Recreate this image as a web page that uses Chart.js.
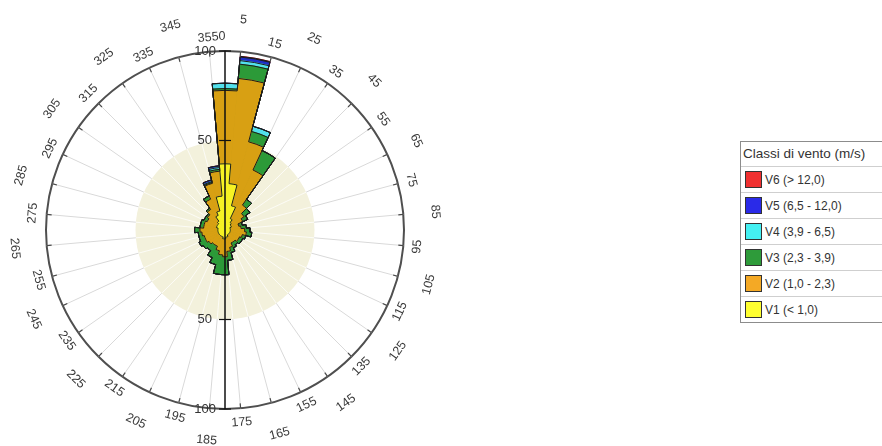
<!DOCTYPE html>
<html>
<head>
<meta charset="utf-8">
<script src="https://cdn.jsdelivr.net/npm/chart.js@4/dist/chart.umd.min.js"></script>
<style>
html,body{margin:0;padding:0;background:#fff;width:882px;height:446px;overflow:hidden;font-family:"Liberation Sans",Arial,sans-serif;}
#c{position:absolute;left:0;top:0;}
#legend{position:absolute;left:740px;top:141px;width:160px;border:1px solid #8c8c8c;background:#fff;color:#333;}
#legend .hdr{height:24px;line-height:24px;font-size:13.5px;padding-left:2px;white-space:nowrap;}
#legend .row{height:25px;border-top:1px solid #cfcfcf;display:flex;align-items:center;padding-left:4px;font-size:12px;white-space:nowrap;}
#legend .sw{width:15px;height:15px;border:1px solid #333;margin-right:3px;flex:none;}
</style>
</head>
<body>
<canvas id="c" width="450" height="446"></canvas>
<div id="legend"></div>
<script>
// Sector centres (degrees) – one bar per 10° sector
const sectors = ['0','10','20','30','40','50','60','70','80','90','100','110','120','130','140','150','160','170',
                 '180','190','200','210','220','230','240','250','260','270','280','290','300','310','320','330','340','350'];
// Angular tick labels at sector boundaries (355, 5, 15, ... 345)
const angleTicks = ['355','5','15','25','35','45','55','65','75','85','95','105','115','125','135','145','155','165',
                    '175','185','195','205','215','225','235','245','255','265','275','285','295','305','315','325','335','345'];
const radialTicks = [50, 100];
const legendTitle = 'Classi di vento (m/s)';
const classNames = ['V1 (< 1,0)','V2 (1,0 - 2,3)','V3 (2,3 - 3,9)','V4 (3,9 - 6,5)','V5 (6,5 - 12,0)','V6 (> 12,0)'];

// Frequency of each wind class per sector
const v1 = [37,26,14,7,5,4,4,3,3,3,3,3,3,3,3,3,4,4,5,5,4,4,4,4,4,4,4,4,4,5,5,5,6,9,11,19];
const v2 = [41,59,37,30,12,9,7,5,6,8,9,7,6,6,5,5,6,8,10,9,8,6,6,7,8,8,9,10,8,7,6,7,8,10,16,14];
const v3 = [1,8,6,12,4,4,3,2,3,3,3,2,2,2,2,3,3,5,10,11,8,7,4,4,4,3,2,3,2,2,2,1,1,2,0.5,1];
const v4 = [3,2,3,0,0,0,0,0,0,0,0,0,0,0,0,0,0,0,0,0,0,0,0,0,0,0,0,0,0,0,0,0,0,0,0.5,1];
const v5 = [0,2,0,0,0,0,0,0,0,0,0,0,0,0,0,0,0,0,0,0,0,0,0,0,0,0,0,0,0,0,0,0,0,0,1,1];
const v6 = [0,0.4,0,0,0,0,0,0,0,0,0,0,0,0,0,0,0,0,0,0,0,0,0,0,0,0,0,0,0,0,0,0,0,0,0,0];

const fillColors   = ['#F6F224','#D8A013','#2C9A38','#52E0EC','#1F2FC8','#EE2A2A'];
const legendColors = ['#FFFF30','#F4A925','#2E9B3A','#44F0F2','#2A2AE8','#F03030'];

// cumulative stacks (drawn largest first, so dataset 0 = innermost ends up on top)
const classes = [v1,v2,v3,v4,v5,v6];
const cumulative = [];
let run = sectors.map(() => 0);
classes.forEach(arr => { run = run.map((s,i) => s + arr[i]); cumulative.push(run.slice()); });

const datasets = cumulative.map((d,k) => ({
  label: classNames[k], data: d,
  backgroundColor: fillColors[k], borderColor: fillColors[k], borderWidth: 1
}));

const decor = {
  id: 'decor',
  beforeDatasetsDraw(chart) {
    const ctx = chart.ctx, s = chart.scales.r;
    const r50 = s.getDistanceFromCenterForValue(50);
    ctx.save();
    ctx.fillStyle = '#F3F1DC';
    ctx.beginPath(); ctx.arc(s.xCenter, s.yCenter, r50, 0, Math.PI*2); ctx.fill();
    ctx.strokeStyle = 'rgba(255,255,255,0.75)'; ctx.lineWidth = 1;
    for (let j = 0; j < sectors.length; j++) {
      const p = s.getPointPosition(j, r50);
      ctx.beginPath(); ctx.moveTo(s.xCenter, s.yCenter); ctx.lineTo(p.x, p.y); ctx.stroke();
    }
    ctx.restore();
  },
  afterDatasetsDraw(chart) {
    const ctx = chart.ctx, s = chart.scales.r;
    ctx.save();
    // outlines of each stacked layer
    ctx.strokeStyle = '#1c1c1c'; ctx.lineWidth = 1; ctx.lineJoin = 'miter';
    for (let k = cumulative.length - 1; k >= 0; k--) {
      const meta = chart.getDatasetMeta(k);
      ctx.beginPath();
      meta.data.forEach((arc, i) => {
        const {x, y, startAngle, endAngle, outerRadius} = arc.getProps(['x','y','startAngle','endAngle','outerRadius'], true);
        const px = x + outerRadius * Math.cos(startAngle), py = y + outerRadius * Math.sin(startAngle);
        if (i === 0) ctx.moveTo(px, py); else ctx.lineTo(px, py);
        ctx.arc(x, y, outerRadius, startAngle, endAngle);
      });
      ctx.closePath(); ctx.stroke();
    }
    const R = s.drawingArea;
    // ticks on outer circle
    ctx.strokeStyle = '#4a4a4a'; ctx.lineWidth = 1.2;
    for (let j = 0; j < angleTicks.length; j++) {
      const a = s.getPointPosition(j, R - 5), b = s.getPointPosition(j, R);
      ctx.beginPath(); ctx.moveTo(a.x, a.y); ctx.lineTo(b.x, b.y); ctx.stroke();
    }
    // vertical radial axis
    const top = s.yCenter - s.getDistanceFromCenterForValue(100);
    const bot = s.yCenter + s.getDistanceFromCenterForValue(100);
    ctx.strokeStyle = '#111'; ctx.lineWidth = 1.5;
    ctx.beginPath(); ctx.moveTo(s.xCenter, top); ctx.lineTo(s.xCenter, bot); ctx.stroke();
    ctx.font = '13px "Liberation Sans", Arial, sans-serif';
    ctx.fillStyle = '#333'; ctx.textAlign = 'right'; ctx.textBaseline = 'middle';
    radialTicks.forEach(v => {
      const d = s.getDistanceFromCenterForValue(v);
      [s.yCenter - d, s.yCenter + d].forEach(yy => {
        ctx.lineWidth = 1.2;
        ctx.beginPath(); ctx.moveTo(s.xCenter - 6, yy); ctx.lineTo(s.xCenter + 6, yy); ctx.stroke();
        ctx.fillText(String(v), s.xCenter - (v === 100 ? 9 : 13), yy);
      });
    });
    // angular labels, staggered on two radii, rotated tangentially
    ctx.font = '12.5px "Liberation Sans", Arial, sans-serif';
    ctx.fillStyle = '#3a3a3a'; ctx.textAlign = 'center';
    angleTicks.forEach((t, j) => {
      const dist = R + (j % 2 === 1 ? 32 : 14);
      const p = s.getPointPosition(j, dist);
      let deg = s.getIndexAngle(j) * 180 / Math.PI;
      deg = ((deg % 360) + 360) % 360;
      let rot = deg;
      if (deg > 90 && deg <= 270) rot = deg - 180; else if (deg > 270) rot = deg - 360;
      ctx.save(); ctx.translate(p.x, p.y); ctx.rotate(rot * Math.PI / 180);
      ctx.fillText(t, 0, 0); ctx.restore();
    });
    ctx.fillText('0', s.xCenter - 3, s.yCenter - R - 14);
    ctx.restore();
  }
};

new Chart(document.getElementById('c'), {
  type: 'polarArea',
  data: { labels: sectors, datasets },
  options: {
    responsive: false,
    animation: false,
    layout: { padding: { left: 46, top: 51, right: 46, bottom: 37 } },
    plugins: { legend: { display: false }, tooltip: { enabled: false } },
    scales: {
      r: {
        min: 0, max: 100, startAngle: -5,
        ticks: { display: false, stepSize: 100 },
        pointLabels: { display: false },
        angleLines: { display: true, color: '#d9d9d9', lineWidth: 1 },
        grid: { circular: true, color: '#4f4f4f', lineWidth: 2 }
      }
    }
  },
  plugins: [decor]
});

// HTML legend
const lg = document.getElementById('legend');
const h = document.createElement('div'); h.className = 'hdr'; h.textContent = legendTitle; lg.appendChild(h);
for (let k = classNames.length - 1; k >= 0; k--) {
  const row = document.createElement('div'); row.className = 'row';
  const sw = document.createElement('span'); sw.className = 'sw'; sw.style.background = legendColors[k];
  const tx = document.createElement('span'); tx.textContent = classNames[k];
  row.appendChild(sw); row.appendChild(tx); lg.appendChild(row);
}
</script>
</body>
</html>
